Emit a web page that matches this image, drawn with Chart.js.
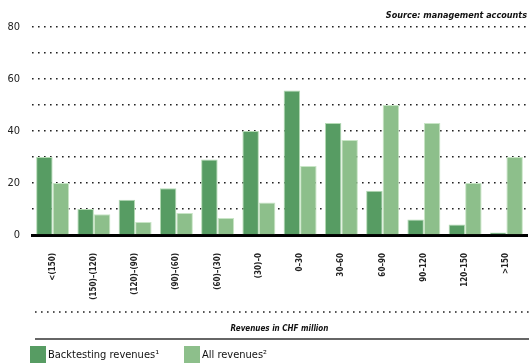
<!DOCTYPE html>
<html>
<head>
<meta charset="utf-8">
<script src="https://cdn.jsdelivr.net/npm/chart.js@4/dist/chart.umd.min.js"></script>
<style>
  html, body { margin: 0; padding: 0; background: #fff; }
  #wrap { width: 529px; height: 364px; position: relative; }
</style>
</head>
<body>
<div id="wrap"><canvas id="chart"></canvas></div>
<script>
const categories = ["<(150)", "(150)–(120)", "(120)–(90)", "(90)–(60)", "(60)–(30)", "(30)–0",
    "0–30", "30–60", "60–90", "90–120", "120–150", ">150"];
const backtesting = [30, 10, 13.5, 18, 29, 40, 55.5, 43, 17, 6, 4, 1];
const allRevenues = [20, 8, 5, 8.5, 6.5, 12.5, 26.5, 36.5, 50, 43, 20, 30];
const seriesNames = ["Backtesting revenues¹", "All revenues²"];
const yTicks = [0, 20, 40, 60, 80];

const darkGreen = "#579c63";
const lightGreen = "#8dbf8b";
const fontFamily = "'Liberation Sans Narrow', 'DejaVu Sans Condensed', 'Roboto', sans-serif";

// dotted separator, x title rule and legend underneath the axis
const extras = {
    id: 'extras',
    afterDraw(chart) {
        const ctx = chart.ctx;
        const x = chart.scales.x;
        ctx.save();
        ctx.strokeStyle = '#222';
        ctx.lineWidth = 1.6;
        ctx.setLineDash([1.6, 4.4]);
        ctx.beginPath();
        ctx.moveTo(x.left + 3, 312);
        ctx.lineTo(chart.width, 312);
        ctx.stroke();

        ctx.setLineDash([]);
        ctx.strokeStyle = '#333';
        ctx.lineWidth = 1.5;
        ctx.beginPath();
        ctx.moveTo(x.left + 3, x.bottom);
        ctx.lineTo(chart.width, x.bottom);
        ctx.stroke();

        const colors = [darkGreen, lightGreen];
        const starts = [30, 184];
        ctx.font = "11px " + fontFamily;
        ctx.textBaseline = 'middle';
        seriesNames.forEach((name, i) => {
            ctx.fillStyle = colors[i];
            ctx.fillRect(starts[i], 346, 16, 17);
            ctx.fillStyle = '#111';
            ctx.fillText(name, starts[i] + 18, 355);
        });
        ctx.restore();
    }
};

new Chart(document.getElementById('chart'), {
    type: 'bar',
    data: {
        labels: categories,
        datasets: [{
            label: seriesNames[0],
            data: backtesting,
            backgroundColor: darkGreen,
            borderColor: '#b5dbb5',
            borderWidth: 1,
            categoryPercentage: 0.8,
            barPercentage: 1
        }, {
            label: seriesNames[1],
            data: allRevenues,
            backgroundColor: lightGreen,
            borderColor: '#c8e5c6',
            borderWidth: 1,
            categoryPercentage: 0.8,
            barPercentage: 1
        }]
    },
    options: {
        responsive: true,
        maintainAspectRatio: false,
        animation: false,
        layout: {padding: {left: 0, right: 2, top: 0, bottom: 25}},
        plugins: {
            legend: {display: false},
            tooltip: {enabled: false},
            title: {
                display: true,
                text: 'Source: management accounts',
                align: 'end',
                color: '#111',
                font: {family: fontFamily, size: 9, style: 'italic', weight: 'bold'},
                padding: {top: 10, bottom: 6}
            }
        },
        scales: {
            x: {
                grid: {display: false},
                border: {display: true, color: '#000', width: 3},
                ticks: {
                    minRotation: 90,
                    maxRotation: 90,
                    autoSkip: false,
                    padding: 10,
                    color: '#222',
                    font: {family: fontFamily, size: 8, weight: 'bold'}
                },
                title: {
                    display: true,
                    text: 'Revenues in CHF million',
                    color: '#111',
                    font: {family: fontFamily, size: 8, style: 'italic', weight: 'bold'},
                    padding: {top: 0, bottom: 5}
                },
                afterFit: s => { s.height = 104; }
            },
            y: {
                min: 0,
                max: 80,
                border: {display: false, dash: [1.6, 4.4]},
                grid: {
                    color: '#222',
                    lineWidth: 1.6,
                    drawTicks: false
                },
                ticks: {
                    stepSize: 10,
                    padding: 12,
                    color: '#222',
                    font: {family: fontFamily, size: 11},
                    callback: v => yTicks.includes(v) ? v : ''
                },
                afterFit: s => { s.width = 32; }
            }
        }
    },
    plugins: [extras]
});
</script>
</body>
</html>
